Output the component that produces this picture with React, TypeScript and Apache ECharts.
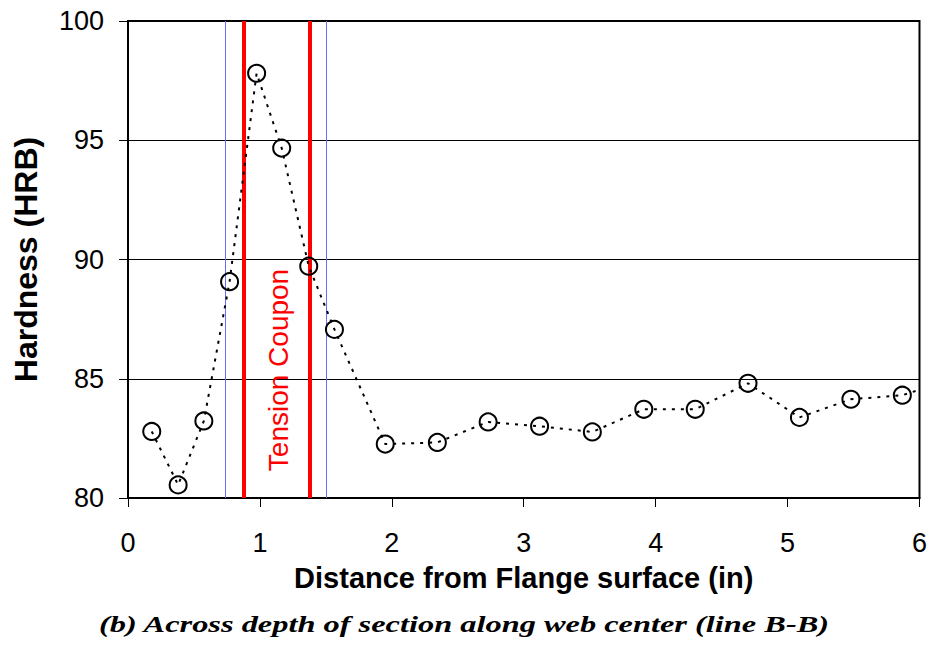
import React, { useEffect, useRef } from "react";
import * as echarts from "echarts";

const distances = [0.18, 0.38, 0.575, 0.77, 0.975, 1.165, 1.37, 1.565, 1.95, 2.345, 2.73, 3.12, 3.52, 3.91, 4.3, 4.7, 5.09, 5.48, 5.87, 6.26];
const hardness = [82.79, 80.55, 83.23, 89.07, 97.81, 94.67, 89.72, 87.07, 82.26, 82.33, 83.19, 83.01, 82.77, 83.72, 83.72, 84.81, 83.38, 84.14, 84.31, 85.0];
const couponEdges = [0.875, 1.375];
const zoneEdges = [0.745, 1.5];
const xTicks = [0, 1, 2, 3, 4, 5, 6];
const yTicks = [80, 85, 90, 95, 100];

const xLabel = "Distance from Flange surface (in)";
const yLabel = "Hardness (HRB)";
const caption = "(b) Across depth of section along web center (line B-B)";
const couponLabel = "Tension Coupon";

export default function App() {
  const ref = useRef<HTMLDivElement>(null);
  useEffect(() => {
    if (!ref.current) return;
    const chart = echarts.init(ref.current, null, { renderer: "svg" });
    const sans = "Liberation Sans, Arial, sans-serif";
    chart.setOption({
      animation: false,
      backgroundColor: "#fff",
      grid: {
        left: 128,
        right: 10,
        top: 21,
        bottom: 148,
        show: true,
        borderColor: "#000",
        borderWidth: 2,
        backgroundColor: "transparent",
      },
      xAxis: {
        type: "value",
        min: xTicks[0],
        max: xTicks[xTicks.length - 1],
        interval: 1,
        name: xLabel,
        nameLocation: "middle",
        nameGap: 65,
        nameTextStyle: { fontFamily: sans, fontSize: 29, fontWeight: "bold", color: "#000" },
        axisLine: { show: true, lineStyle: { color: "#000", width: 2 } },
        axisTick: { show: true, length: 9, lineStyle: { color: "#000", width: 1 } },
        axisLabel: { fontFamily: sans, fontSize: 27, color: "#000", margin: 31 },
        splitLine: { show: false },
      },
      yAxis: {
        type: "value",
        min: yTicks[0],
        max: yTicks[yTicks.length - 1],
        interval: 5,
        name: yLabel,
        nameLocation: "middle",
        nameGap: 86,
        nameTextStyle: { fontFamily: sans, fontSize: 32, fontWeight: "bold", color: "#000" },
        axisLine: { show: true, lineStyle: { color: "#000", width: 2 } },
        axisTick: { show: true, length: 9, lineStyle: { color: "#000", width: 1 } },
        axisLabel: { fontFamily: sans, fontSize: 27, color: "#000", margin: 24 },
        splitLine: { show: true, lineStyle: { color: "#000", width: 1 } },
      },
      series: [
        {
          type: "line",
          data: distances.map((d, i) => [d, hardness[i]]),
          clip: false,
          symbol: "circle",
          symbolSize: 17,
          showSymbol: true,
          lineStyle: { color: "#000", width: 2, type: [3, 6] },
          itemStyle: { color: "rgba(0,0,0,0)", borderColor: "#000", borderWidth: 2 },
          z: 5,
          markLine: {
            silent: true,
            symbol: "none",
            label: { show: false },
            data: [
              ...zoneEdges.map((x) => ({ xAxis: x, lineStyle: { color: "#6b6bff", width: 1, type: "solid" } })),
              ...couponEdges.map((x) => ({ xAxis: x, lineStyle: { color: "#ff0000", width: 4, type: "solid" } })),
            ],
          },
        },
      ],
      graphic: [
        {
          type: "text",
          x: 278,
          y: 370,
          rotation: Math.PI / 2,
          style: {
            text: couponLabel,
            fill: "#ff0000",
            fontFamily: sans,
            fontSize: 28,
            align: "center",
            verticalAlign: "middle",
          },
          z: 10,
        },
        {
          type: "text",
          x: 464,
          y: 624,
          scaleX: 1.35,
          style: {
            text: caption,
            fill: "#000",
            fontFamily: "Liberation Serif, Times New Roman, serif",
            fontSize: 24,
            fontWeight: "bold",
            fontStyle: "italic",
            align: "center",
            verticalAlign: "middle",
          },
        },
      ],
    });
    return () => chart.dispose();
  }, []);
  return <div ref={ref} style={{ position: "fixed", left: 0, top: 0, width: 930, height: 646 }} />;
}
